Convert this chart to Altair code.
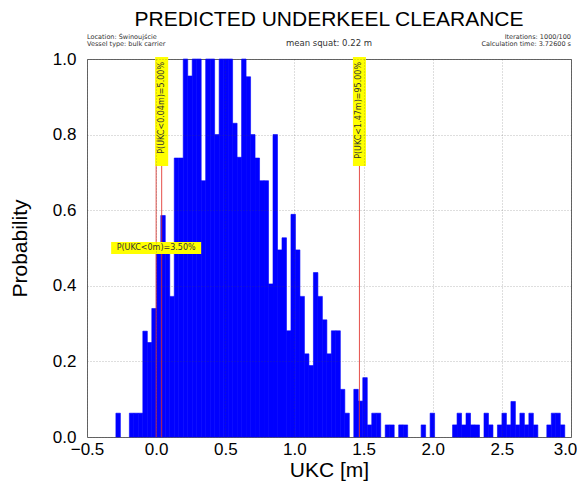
import altair as alt
import pandas as pd

# ---- data ----
bin_start = -0.291
bin_width = 0.03246
heights = [
    0.063, 0.0, 0.0, 0.063, 0.063, 0.063, 0.28, 0.25, 0.34, 0.50,
    0.586, 0.51, 0.372, 0.738, 0.738, 1.0, 0.955, 1.0, 1.0, 0.678,
    1.0, 1.0, 0.80, 1.0, 1.0, 1.0, 0.83, 0.74, 1.0, 0.953,
    0.80, 0.738, 0.678, 0.678, 0.405, 0.80, 0.495, 0.527, 0.281, 0.589,
    0.495, 0.372, 0.22, 0.189, 0.435, 0.372, 0.31, 0.22, 0.281, 0.281,
    0.126, 0.063, 0.0, 0.126, 0.095, 0.157, 0.032, 0.063, 0.063, 0.0,
    0.032, 0.032, 0.0, 0.032, 0.032, 0.0, 0.0, 0.0, 0.032, 0.0,
    0.063, 0.0, 0.0, 0.0, 0.0, 0.032, 0.063, 0.032, 0.063, 0.032,
    0.032, 0.0, 0.063, 0.032, 0.0, 0.032, 0.063, 0.032, 0.094, 0.032,
    0.063, 0.032, 0.063, 0.032, 0.0, 0.0, 0.032, 0.063, 0.063, 0.032,
]
threshold_values = [0.0, 0.04, 1.47]
vertical_labels = ["P(UKC<0.04m)=5.00%", "P(UKC<1.47m)=95.00%"]
vertical_label_x = [0.04, 1.47]
horizontal_label = "P(UKC<0m)=3.50%"
horizontal_label_x = 0.0
horizontal_label_y = 0.5
x_ticks = [-0.5, 0.0, 0.5, 1.0, 1.5, 2.0, 2.5, 3.0]
y_ticks = [0.0, 0.2, 0.4, 0.6, 0.8, 1.0]
title_text = "PREDICTED UNDERKEEL CLEARANCE"
info_left = ["Location: Świnoujście", "Vessel type: bulk carrier"]
info_center = "mean squat: 0.22 m"
info_right = ["Iterations: 1000/100", "Calculation time: 3.72600 s"]

bars = pd.DataFrame({
    "left": [bin_start + i * bin_width for i in range(len(heights))],
    "right": [bin_start + (i + 1) * bin_width for i in range(len(heights))],
    "prob": heights,
})
bars = bars[bars["prob"] > 0]

FONT = "Liberation Sans"
SMALL = "DejaVu Sans"

xscale = alt.Scale(domain=[-0.5, 3.0], nice=False, zero=False)
yscale = alt.Scale(domain=[0, 1.0], nice=False)

xaxis = alt.Axis(values=x_ticks, format=".1f", title="UKC [m]", grid=True,
                 gridColor="#444", gridDash=[1, 2], gridWidth=0.6, gridOpacity=0.6,
                 ticks=False, domain=False, labelFlush=False, labelFont=FONT,
                 labelFontSize=17, labelColor="black", labelPadding=4,
                 labelOffset={"condition": {"test": "datum.value >= 3", "value": -6},
                              "value": 0},
                 titleFont=FONT, titleFontSize=21, titleFontWeight="normal",
                 titleColor="black", titlePadding=2, zindex=1)
yaxis = alt.Axis(values=y_ticks, format=".1f", title="Probability", grid=True,
                 gridColor="#444", gridDash=[1, 2], gridWidth=0.6, gridOpacity=0.6,
                 ticks=False, domain=False, labelFlush=False, labelFont=FONT,
                 labelFontSize=17, labelColor="black", labelPadding=11,
                 titleFont=FONT, titleFontSize=21, titleFontWeight="normal",
                 titleColor="black", titlePadding=22, zindex=1)

hist = alt.Chart(bars).mark_rect(
    color="#0000ff", stroke="#0000ff", strokeWidth=0.6
).encode(
    x=alt.X("left:Q", scale=xscale, axis=xaxis),
    x2="right:Q",
    y=alt.Y("prob:Q", scale=yscale, axis=yaxis),
    y2=alt.datum(0),
)

rules = alt.Chart(pd.DataFrame({"v": threshold_values})).mark_rule(
    color="#e0302a", strokeWidth=1, opacity=0.85
).encode(x=alt.X("v:Q", scale=xscale))

vlab = pd.DataFrame({"x": vertical_label_x, "text": vertical_labels})
vbox = alt.Chart(vlab).mark_rect(
    color="#ffff00", xOffset=-6.5, x2Offset=6.5, yOffset=-2, y2Offset=107
).encode(x=alt.X("x:Q", scale=xscale), x2="x:Q",
         y=alt.datum(1.0, scale=yscale), y2=alt.datum(1.0))
vtext = alt.Chart(vlab).mark_text(
    angle=270, align="right", baseline="middle", font=SMALL, fontSize=8,
    color="#333", yOffset=3
).encode(x=alt.X("x:Q", scale=xscale), y=alt.datum(1.0), text="text:N")

hlab = pd.DataFrame({"x": [horizontal_label_x], "y": [horizontal_label_y],
                     "text": [horizontal_label]})
hbox = alt.Chart(hlab).mark_rect(
    color="#ffff00", xOffset=-45, x2Offset=45, yOffset=-6, y2Offset=6
).encode(x=alt.X("x:Q", scale=xscale), x2="x:Q",
         y=alt.Y("y:Q", scale=yscale), y2="y:Q")
htext = alt.Chart(hlab).mark_text(
    align="center", baseline="middle", font=SMALL, fontSize=8, color="#333"
).encode(x=alt.X("x:Q", scale=xscale), y=alt.Y("y:Q", scale=yscale), text="text:N")

title = alt.Chart(pd.DataFrame({"t": [title_text]})).mark_text(
    font=FONT, fontSize=21, align="center", baseline="alphabetic", yOffset=-33,
    color="black"
).encode(x=alt.datum(1.25), y=alt.datum(1.0), text="t:N")

left_info = alt.Chart(pd.DataFrame({"t": info_left, "k": [0, 1]})).mark_text(
    font=SMALL, fontSize=6.5, align="left", baseline="alphabetic", color="#333"
).encode(x=alt.datum(-0.5), y=alt.datum(1.0), text="t:N",
         yOffset=alt.YOffset("k:Q", scale=alt.Scale(domain=[0, 1], range=[-20, -13])))
right_info = alt.Chart(pd.DataFrame({"t": info_right, "k": [0, 1]})).mark_text(
    font=SMALL, fontSize=6.5, align="right", baseline="alphabetic", color="#333"
).encode(x=alt.datum(3.0), y=alt.datum(1.0), text="t:N",
         yOffset=alt.YOffset("k:Q", scale=alt.Scale(domain=[0, 1], range=[-20, -13])))
center_info = alt.Chart(pd.DataFrame({"t": [info_center]})).mark_text(
    font=SMALL, fontSize=8.5, align="center", baseline="alphabetic", yOffset=-13,
    color="#333"
).encode(x=alt.datum(1.25), y=alt.datum(1.0), text="t:N")

chart = alt.layer(
    hist, rules, hbox, htext, vbox, vtext, title, left_info, right_info, center_info
).properties(
    width=484, height=378,
    autosize=alt.AutoSizeParams(type="none"),
    padding={"left": 79, "top": 51, "right": 6, "bottom": 45},
).configure_view(stroke="#666", strokeWidth=1)

chart.save("out.html", embed_options={"renderer": "svg", "actions": False})
